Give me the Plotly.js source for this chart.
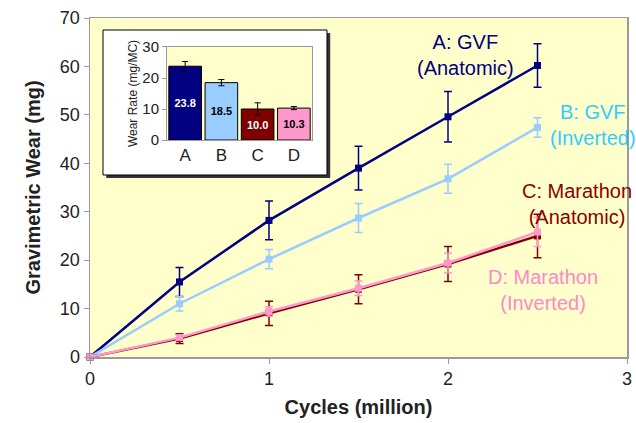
<!DOCTYPE html>
<html><head><meta charset="utf-8">
<script src="https://cdn.plot.ly/plotly-3.0.1.min.js"></script>
<style>body{margin:0;background:#fff}#c{width:636px;height:423px}</style>
</head><body><div id="c"></div>
<script>
// Main chart data
const cycles = [0, 0.5, 1.0, 1.5, 2.0, 2.5];
const wearA = [0, 15.5, 28.2, 39.0, 49.6, 60.2];
const errA  = [0, 3.0, 4.0, 4.5, 5.2, 4.5];
const wearB = [0, 11.0, 20.2, 28.7, 36.8, 47.4];
const errB  = [0, 1.5, 2.0, 3.0, 3.0, 2.0];
const wearC = [0, 3.8, 9.0, 14.0, 19.2, 25.0];
const errC  = [0, 1.0, 2.5, 3.0, 3.6, 4.5];
const wearD = [0, 4.0, 9.4, 14.2, 19.4, 25.8];
const errD  = [0, 0.5, 1.0, 1.5, 2.0, 3.0];

// Inset data
const insetCats = ['A', 'B', 'C', 'D'];
const wearRate = [23.8, 18.5, 10.0, 10.3];
const wearRateErr = [1.5, 1.0, 2.0, 0.5];
const wearRateLabels = ['23.8', '18.5', '10.0', '10.3'];

const cA = '#000080', cB = '#99CCFF', cC = '#800000', cD = '#FF99CC';
const F = 'Liberation Sans, Arial, sans-serif';

function series(y, e, color) {
  return {
    x: cycles, y: y, type: 'scatter', mode: 'lines+markers',
    line: {color: color, width: 2.5},
    marker: {symbol: 'square', size: 7, color: color},
    error_y: {type: 'data', array: e, visible: true, color: color, thickness: 1.5, width: 4},
    cliponaxis: false, xaxis: 'x', yaxis: 'y', showlegend: false, hoverinfo: 'skip'
  };
}

const traces = [
  series(wearA, errA, cA),
  series(wearB, errB, cB),
  series(wearC, errC, cC),
  series(wearD, errD, cD),
  {
    x: insetCats, y: wearRate, type: 'bar', xaxis: 'x2', yaxis: 'y2',
    marker: {color: [cA, cB, cC, cD], line: {color: '#000', width: 1}},
    width: 0.9,
    error_y: {type: 'data', array: wearRateErr, visible: true, color: '#000', thickness: 1, width: 3},
    text: wearRateLabels.map(t => '<b>' + t + '</b>'), textposition: 'inside', insidetextanchor: 'middle',
    textfont: {family: F, size: 11, color: ['#ffffff', '#000000', '#ffffff', '#000000']},
    textangle: 0, showlegend: false, hoverinfo: 'skip'
  }
];

// inset geometry (paper coords)
const ix0 = 0.1434, ix1 = 0.4134, iy0 = 0.640, iy1 = 0.9145;
const bx0 = 0.0242, bx1 = 0.4413, by0 = 0.5369, by1 = 0.9646;

const layout = {
  width: 636, height: 423,
  margin: {l: 90, r: 9, t: 18, b: 66},
  paper_bgcolor: '#ffffff', plot_bgcolor: 'rgba(0,0,0,0)',
  font: {family: F, color: '#222'},
  xaxis: {
    domain: [0, 1], range: [0, 3], dtick: 1, tick0: 0,
    showgrid: false, zeroline: false, showline: true, mirror: true,
    linecolor: '#9a9a9a', linewidth: 1.5, ticks: 'outside', ticklen: 5, tickcolor: '#9a9a9a',
    tickfont: {size: 18, color: '#222'},
    title: {text: '<b>Cycles (million)</b>', font: {size: 20, color: '#222'}, standoff: 12}
  },
  yaxis: {
    domain: [0, 1], range: [0, 70], dtick: 10, tick0: 0,
    showgrid: false, zeroline: false, showline: true, mirror: true,
    linecolor: '#9a9a9a', linewidth: 1.5, ticks: 'outside', ticklen: 5, tickcolor: '#9a9a9a',
    tickfont: {size: 18, color: '#222'},
    title: {text: '<b>Gravimetric Wear (mg)</b>', font: {size: 20, color: '#222'}, standoff: 14}
  },
  xaxis2: {
    domain: [ix0, ix1], anchor: 'y2', showgrid: false, zeroline: false,
    showline: true, mirror: true, linecolor: '#9a9a9a', linewidth: 1,
    ticks: '', tickfont: {size: 17, color: '#222'}, fixedrange: true
  },
  yaxis2: {
    domain: [iy0, iy1], anchor: 'x2', range: [0, 30], dtick: 10,
    showgrid: false, zeroline: false, showline: true, mirror: true,
    linecolor: '#9a9a9a', linewidth: 1, ticks: 'outside', ticklen: 4, tickcolor: '#9a9a9a',
    tickfont: {size: 15, color: '#222'},
    title: {text: 'Wear Rate (mg/MC)', font: {size: 12, color: '#222'}, standoff: 2}
  },
  bargap: 0.1,
  shapes: [
    {type: 'rect', xref: 'paper', yref: 'paper', x0: 0, x1: 1, y0: 0, y1: 1,
     fillcolor: '#FFFFCC', line: {width: 0}, layer: 'below'},
    {type: 'rect', xref: 'paper', yref: 'paper', x0: bx0 + 0.006, x1: bx1 + 0.006, y0: by0 - 0.009, y1: by1 - 0.009,
     fillcolor: '#333333', line: {width: 0}, layer: 'below'},
    {type: 'rect', xref: 'paper', yref: 'paper', x0: bx0, x1: bx1, y0: by0, y1: by1,
     fillcolor: '#ffffff', line: {color: '#000', width: 1}, layer: 'below'},
    {type: 'rect', xref: 'paper', yref: 'paper', x0: ix0, x1: ix1, y0: iy0, y1: iy1,
     fillcolor: '#FFFFCC', line: {width: 0}, layer: 'below'}
  ],
  annotations: [
    {x: 2.1, y: 62.3, text: 'A: GVF<br>(Anatomic)', font: {size: 20, color: cA}},
    {x: 2.81, y: 48.0, text: 'B: GVF<br>(Inverted)', font: {size: 20, color: '#33CCFF'}},
    {x: 2.72, y: 31.5, text: 'C: Marathon<br>(Anatomic)', font: {size: 20, color: '#8B0000'}},
    {x: 2.53, y: 13.8, text: 'D: Marathon<br>(Inverted)', font: {size: 20, color: '#FF88C8'}}
  ].map(a => Object.assign({xref: 'x', yref: 'y', showarrow: false, align: 'center'}, a))
};

Plotly.newPlot('c', traces, layout, {displayModeBar: false, staticPlot: true});
</script></body></html>
